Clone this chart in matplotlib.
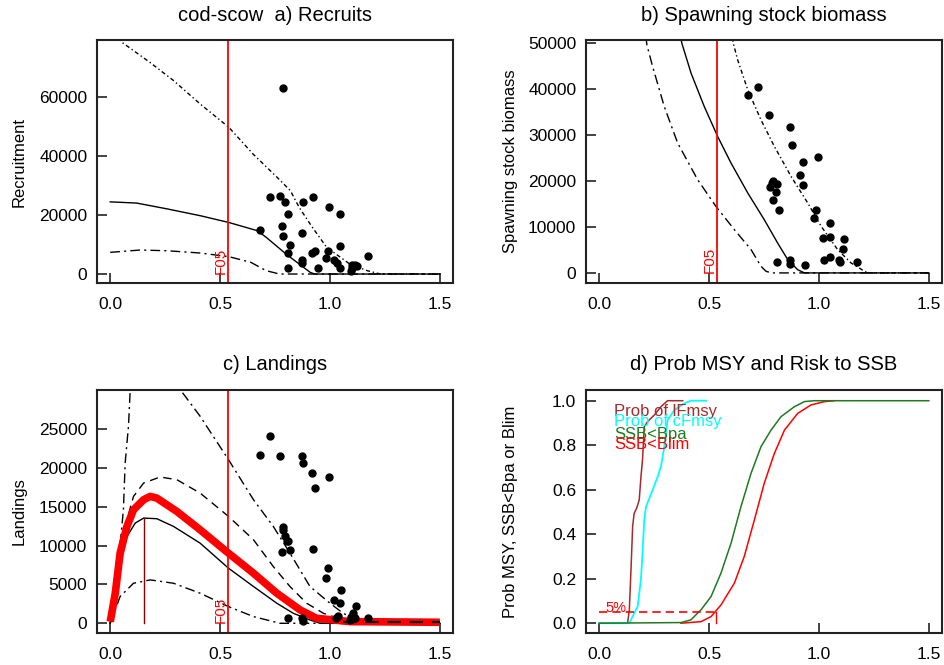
import numpy as np
import matplotlib.pyplot as plt

plt.rcParams['font.family'] = ['Liberation Sans', 'DejaVu Sans']

# ---- a) Recruits ----
rec_x = [0.0, 0.12, 0.26, 0.41, 0.54, 0.67, 0.71, 0.80, 0.86, 0.91, 0.93, 1.5]
rec_med = [24500, 24100, 22100, 19800, 17500, 14700, 12450, 6800, 3400, 570, 0, 0]
rec_up_x = [0.0, 0.053, 0.18, 0.288, 0.41, 0.54, 0.65, 0.76, 0.82, 0.86, 0.92, 0.985, 1.09, 1.17, 1.23, 1.5]
rec_up = [83000, 78700, 71900, 65700, 57700, 49800, 40750, 32800, 28300, 22600, 15850, 9060, 3400, 1130, 0, 0]
rec_lo_x = [0.0, 0.136, 0.26, 0.41, 0.54, 0.64, 0.71, 0.77, 1.5]
rec_lo = [7360, 8150, 7900, 7130, 5900, 3960, 1130, 0, 0]
rec_obs_f = [0.788, 0.727, 0.773, 0.795, 0.879, 0.924, 0.995, 1.045, 0.811, 0.682, 0.780,
             0.788, 0.871, 0.818, 1.045, 0.811, 0.917, 0.932, 0.989, 1.171, 0.871, 0.871,
             0.982, 1.020, 1.030, 1.098, 1.114, 1.121, 1.098, 0.811, 0.944, 1.045, 1.095]
rec_obs = [63170, 26040, 26600, 24340, 24340, 26040, 22640, 20380, 20380, 15060, 16190,
           12790, 13930, 9960, 9400, 7130, 7130, 7700, 7700, 6000, 4870, 3740,
           5430, 4870, 3740, 3170, 3170, 2600, 2040, 2040, 2040, 2040, 1130]

# ---- b) Spawning stock biomass ----
ssb_x = [0.35, 0.376, 0.418, 0.478, 0.539, 0.60, 0.676, 0.751, 0.812, 0.858, 0.903, 0.934, 1.5]
ssb_med = [56000, 50000, 43480, 36230, 29700, 23900, 17400, 11600, 6500, 2900, 700, 0, 0]
ssb_lo_x = [0.20, 0.217, 0.243, 0.296, 0.357, 0.448, 0.531, 0.615, 0.691, 0.736, 0.759, 0.782, 1.5]
ssb_lo = [56000, 49640, 44930, 36230, 28260, 20290, 14490, 9420, 5070, 1450, 360, 0, 0]
ssb_up_x = [0.59, 0.61, 0.63, 0.676, 0.736, 0.797, 0.873, 0.949, 1.01, 1.085, 1.146, 1.207, 1.222, 1.5]
ssb_up = [56000, 50000, 46380, 39860, 33330, 27540, 21010, 15220, 10140, 5070, 2170, 360, 0, 0]
ssb_obs_f = [0.721, 0.676, 0.771, 0.870, 0.877, 0.994, 0.929, 0.915, 0.789, 0.809, 0.926,
             0.777, 0.786, 0.805, 0.792, 0.817, 0.987, 0.979, 1.048, 1.017, 1.048, 1.116,
             1.108, 1.048, 1.025, 1.093, 1.096, 1.172, 0.809, 0.870, 0.870, 0.938]
ssb_obs = [40580, 38770, 34420, 31740, 27750, 25220, 24130, 21230, 19930, 19420, 19200,
           18620, 19570, 17540, 15940, 13770, 13770, 11960, 10870, 7610, 7830, 7460,
           5290, 3480, 2750, 2750, 2390, 2390, 2390, 2750, 2030, 1670]

# ---- c) Landings ----
land_mean_x = [0.0, 0.023, 0.045, 0.076, 0.106, 0.152, 0.182, 0.212, 0.303, 0.409, 0.538,
               0.652, 0.758, 0.864, 0.939, 1.015, 1.09, 1.5]
land_mean = [200, 3870, 9020, 12460, 14600, 15900, 16320, 16100, 14390, 12030, 9020,
             6440, 3870, 1720, 640, 430, 215, 130]
land_x = [0.0, 0.03, 0.076, 0.114, 0.152, 0.212, 0.288, 0.409, 0.538, 0.652, 0.758,
          0.833, 0.909, 0.955, 1.5]
land_med = [0, 5580, 11170, 12890, 13530, 13450, 12460, 10310, 7090, 4730, 2580,
            1290, 430, 0, 0]
land_q75_x = [0.0, 0.03, 0.076, 0.106, 0.152, 0.227, 0.303, 0.409, 0.538, 0.652, 0.742,
              0.818, 0.894, 0.97, 1.06, 1.5]
land_q75 = [0, 6010, 13320, 16320, 18040, 18810, 18470, 16750, 13750, 10740, 7300,
            4730, 2580, 1290, 430, 0]
land_lo_x = [0.0, 0.045, 0.106, 0.182, 0.288, 0.409, 0.538, 0.652, 0.773, 1.5]
land_lo = [0, 3440, 5150, 5580, 5150, 3870, 2150, 860, 0, 0]
land_up_x = [0.0, 0.023, 0.06, 0.068, 0.083, 0.091, 0.15, 0.22, 0.318, 0.409, 0.538,
             0.652, 0.742, 0.818, 0.909, 1.0, 1.06, 1.136, 1.5]
land_up = [0, 3440, 14600, 20620, 25340, 30070, 38000, 38000, 30070, 26630, 21050,
           15890, 12460, 9020, 4730, 2580, 1290, 215, 0]
land_obs_f = [0.727, 0.682, 0.773, 0.871, 0.879, 0.920, 0.995, 0.932, 0.788, 0.788, 0.795,
              0.803, 0.811, 0.818, 0.780, 0.924, 0.989, 0.982, 1.048, 1.020, 1.045, 1.118,
              1.106, 1.171, 0.811, 0.871, 0.876, 1.027, 1.038, 1.095, 1.114, 1.090]
land_obs = [24050, 21690, 21480, 21480, 20620, 19330, 18860, 17350, 12370, 11940, 11170,
            10520, 10520, 9450, 9150, 9540, 7090, 5800, 4300, 3010, 2580, 2280,
            1290, 730, 640, 640, 340, 730, 945, 860, 640, 430]
f_max = 0.155

# ---- d) Prob MSY and risk to SSB ----
p_lf_x = [0.0, 0.129, 0.137, 0.145, 0.152, 0.159, 0.17, 0.182, 0.19, 0.197, 0.205, 0.22,
          0.251, 0.281, 0.311, 0.38]
p_lf = [0, 0, 0.06, 0.25, 0.434, 0.494, 0.516, 0.554, 0.659, 0.734, 0.883, 0.906,
        0.936, 0.973, 1.0, 1.0]
p_cf_x = [0.0, 0.137, 0.159, 0.175, 0.19, 0.197, 0.205, 0.213, 0.228, 0.243, 0.266, 0.281,
          0.296, 0.311, 0.342, 0.387, 0.417, 0.486]
p_cf = [0, 0, 0.045, 0.075, 0.2, 0.314, 0.464, 0.524, 0.561, 0.599, 0.659, 0.704,
        0.793, 0.913, 0.958, 0.988, 1.0, 1.0]
p_bpa_x = [0.0, 0.372, 0.417, 0.463, 0.509, 0.554, 0.60, 0.645, 0.691, 0.736, 0.782,
           0.827, 0.888, 0.934, 0.979, 1.5]
p_bpa = [0, 0.003, 0.015, 0.06, 0.12, 0.225, 0.36, 0.524, 0.674, 0.793, 0.868,
         0.928, 0.973, 0.996, 1.0, 1.0]
p_blim_x = [0.372, 0.463, 0.509, 0.554, 0.615, 0.66, 0.706, 0.751, 0.797, 0.843, 0.903,
            0.964, 1.025, 1.07]
p_blim = [0, 0.007, 0.03, 0.082, 0.18, 0.30, 0.464, 0.629, 0.763, 0.868, 0.943,
          0.981, 0.996, 1.0]
f05 = 0.538
f_5pct = 0.531

fig = plt.figure(figsize=(9.44, 6.65), dpi=100)
ax_a = fig.add_axes([0.1028, 0.5744, 0.3771, 0.3654])
ax_b = fig.add_axes([0.6208, 0.5744, 0.3771, 0.3654])
ax_c = fig.add_axes([0.1028, 0.0481, 0.3771, 0.3654])
ax_d = fig.add_axes([0.6208, 0.0481, 0.3771, 0.3654])

longdd = (0, (7, 3, 1.5, 3))
dotdash = (0, (3, 2, 1, 2))

for ax in (ax_a, ax_b, ax_c, ax_d):
    ax.set_xlim(-0.06, 1.56)
    ax.set_xticks([0.0, 0.5, 1.0, 1.5])
    ax.set_xticklabels(['0.0', '0.5', '1.0', '1.5'])
    ax.tick_params(direction='in', length=7, width=1.2, labelsize=12.5, color='#222222')
    ax.tick_params(axis='x', pad=10)
    ax.tick_params(axis='y', pad=7)
    for s in ax.spines.values():
        s.set_linewidth(1.5)
        s.set_color('#222222')

def title(ax, txt):
    ax.text(0.5, 1.103, txt, transform=ax.transAxes, ha='center', va='center', fontsize=14.5)

def f05_line(ax, ytxt):
    ax.axvline(f05, color='red', lw=1.3)
    ax.text(f05 - 0.004, ytxt, 'F05', color='red', rotation=90, ha='right', va='bottom',
            fontsize=11)

# a
ax_a.plot(rec_x, rec_med, color='black', lw=1.0)
ax_a.plot(rec_up_x, rec_up, color='black', lw=1.0, ls=dotdash)
ax_a.plot(rec_lo_x, rec_lo, color='black', lw=1.0, ls=longdd)
ax_a.plot(rec_obs_f, rec_obs, 'o', color='black', ms=5)
ax_a.set_ylim(-3056, 79456)
ax_a.set_yticks([0, 20000, 40000, 60000])
f05_line(ax_a, 0)
ax_a.set_ylabel('Recruitment', fontsize=12)
ax_a.yaxis.set_label_coords(-0.198, 0.5)
title(ax_a, 'cod-scow  a) Recruits')

# b
ax_b.plot(ssb_x, ssb_med, color='black', lw=1.0)
ax_b.plot(ssb_lo_x, ssb_lo, color='black', lw=1.0, ls=longdd)
ax_b.plot(ssb_up_x, ssb_up, color='black', lw=1.0, ls=dotdash)
ax_b.plot(ssb_obs_f, ssb_obs, 'o', color='black', ms=5)
ax_b.set_ylim(-2200, 50700)
ax_b.set_yticks([0, 10000, 20000, 30000, 40000, 50000])
f05_line(ax_b, 0)
ax_b.set_ylabel('Spawning stock biomass', fontsize=12)
ax_b.yaxis.set_label_coords(-0.19, 0.5)
title(ax_b, 'b) Spawning stock biomass')

# c
ax_c.plot(land_up_x, land_up, color='black', lw=1.0, ls=longdd)
ax_c.plot(land_q75_x, land_q75, color='black', lw=1.0, ls=(0, (6, 4)))
ax_c.plot(land_lo_x, land_lo, color='black', lw=1.0, ls=longdd)
ax_c.plot(land_x, land_med, color='black', lw=1.0)
ax_c.plot(land_mean_x, land_mean, color='red', lw=5.5, solid_capstyle='butt')
ax_c.plot([1.06, 1.5], [130, 130], color='black', lw=1.6, ls=(0, (6, 4)))
ax_c.plot([f_max, f_max], [0, max(land_med)], color='#8B0000', lw=1.0)
ax_c.plot(land_obs_f, land_obs, 'o', color='black', ms=5)
ax_c.set_ylim(-1250, 30000)
ax_c.set_yticks([0, 5000, 10000, 15000, 20000, 25000])
f05_line(ax_c, 0)
ax_c.set_ylabel('Landings', fontsize=12)
ax_c.yaxis.set_label_coords(-0.198, 0.5)
title(ax_c, 'c) Landings')

# d
c_lf, c_cf, c_bpa, c_blim = '#A52A2A', 'cyan', '#1F7A1F', 'red'
ax_d.plot(p_blim_x, p_blim, color=c_blim, lw=1.1)
ax_d.plot(p_lf_x, p_lf, color=c_lf, lw=1.1)
ax_d.plot(p_cf_x, p_cf, color=c_cf, lw=1.3)
ax_d.plot(p_bpa_x, p_bpa, color=c_bpa, lw=1.1)
ax_d.plot([0, f_5pct], [0.05, 0.05], color='red', lw=1.2, ls=(0, (5, 3)))
ax_d.plot([f_5pct, f_5pct], [0.05, 0], color='red', lw=1.0)
ax_d.text(0.075, 0.035, '5%', color='red', ha='center', va='bottom', fontsize=10.5)
leg_txt = ['Prob of lFmsy', 'Prob of cFmsy', 'SSB<Bpa', 'SSB<Blim']
leg_col = [c_lf, c_cf, c_bpa, c_blim]
leg_y = [0.95, 0.906, 0.846, 0.801]
for t, c, y in zip(leg_txt, leg_col, leg_y):
    ax_d.text(0.068, y, t, color=c, ha='left', va='center', fontsize=12)
ax_d.set_ylim(-0.044, 1.048)
ax_d.set_yticks([0.0, 0.2, 0.4, 0.6, 0.8, 1.0])
ax_d.set_yticklabels(['0.0', '0.2', '0.4', '0.6', '0.8', '1.0'])
ax_d.set_ylabel('Prob MSY, SSB<Bpa or Blim', fontsize=12)
ax_d.yaxis.set_label_coords(-0.19, 0.5)
title(ax_d, 'd) Prob MSY and Risk to SSB')

fig.savefig('out.png', dpi=100)
